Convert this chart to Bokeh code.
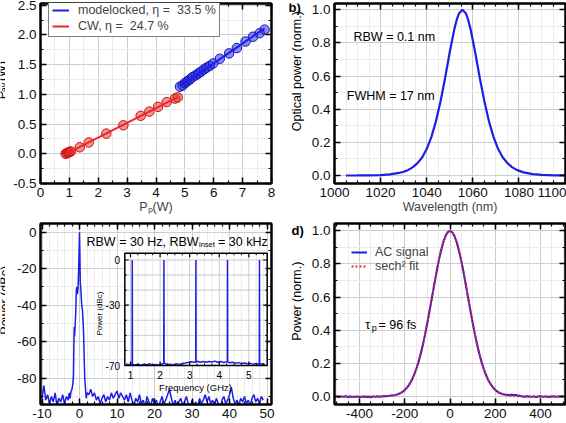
import math
import numpy as np
from bokeh.core.properties import value
from bokeh.embed import file_html
from bokeh.layouts import gridplot
from bokeh.models import (Label, Legend, LegendItem, LinearAxis, PrintfTickFormatter,
                          Range1d, SingleIntervalTicker)
from bokeh.plotting import figure
from bokeh.resources import INLINE

FONT = "Liberation Sans"
BLUE = "#1e1ee6"
BLUE_EDGE = "#1212b4"
RED = "#ea2626"
RED_EDGE = "#c41414"
GRID = "#cdcdcd"
MINOR_GRID = "#ececec"
TICK_FS = "13.5px"
LABEL_FS = "12.5px"
YLABEL_FS = "12.5px"
TEXT_FS = "12.5px"

# ---------------- (a) output power vs. pump power ----------------
cw_pump = [0.87, 0.92, 0.96, 1.00, 1.05, 1.36, 1.67, 2.28, 2.87, 3.47, 3.77, 4.07, 4.37, 4.66, 4.75]
cw_power = [0.00, 0.01, 0.02, 0.03, 0.04, 0.11, 0.19, 0.34, 0.48, 0.64, 0.71, 0.79, 0.87, 0.93, 0.95]
ml_pump = [4.83, 4.92, 5.00, 5.08, 5.17, 5.26, 5.37, 5.46, 5.55, 5.66,
           5.75, 5.86, 5.98, 6.21, 6.53, 6.80, 7.10, 7.36, 7.59, 7.76]
ml_power = [1.13, 1.15, 1.19, 1.22, 1.25, 1.29, 1.32, 1.35, 1.38, 1.42,
            1.45, 1.48, 1.52, 1.60, 1.69, 1.78, 1.89, 1.97, 2.03, 2.09]
eta_ml = 0.335   # slope efficiency, modelocked
eta_cw = 0.247   # slope efficiency, CW

# ---------------- (b) optical spectrum ----------------
wavelength = [1005, 1010, 1015, 1020, 1024, 1028, 1030, 1032, 1034, 1036, 1038, 1040,
              1042, 1044, 1046, 1048, 1050, 1052, 1053, 1054, 1055.5, 1057, 1058, 1059,
              1061, 1063, 1065, 1067, 1069, 1071, 1073, 1075, 1077, 1079, 1082, 1086,
              1090, 1095, 1100]
spectrum = [0.0002, 0.0005, 0.0012, 0.0031, 0.0072, 0.0156, 0.023, 0.034, 0.051, 0.075,
            0.109, 0.160, 0.232, 0.327, 0.448, 0.590, 0.745, 0.885, 0.939, 0.978, 1.000,
            0.978, 0.939, 0.885, 0.745, 0.590, 0.448, 0.327, 0.232, 0.160, 0.109, 0.075,
            0.051, 0.034, 0.019, 0.0085, 0.0038, 0.0014, 0.0005]

# ---------------- (c) RF spectrum around the repetition rate ----------------
rf_left_dbc = [-91, -84, -92, -89, -94, -90, -93, -88, -95, -91, -93, -89, -94, -90, -92]
rf_left_freq = np.arange(-10.0, -2.99, 0.5)
rf_peak_freq = [-2.75, -2.5, -2.25, -2.0, -1.75, -1.6, -1.5, -1.4, -1.3, -1.15, -1.0,
                -0.85, -0.7, -0.55, -0.4, -0.25, -0.1, 0.0, 0.1, 0.2, 0.35, 0.5, 0.65,
                0.8, 0.95, 1.1, 1.25, 1.4, 1.6, 1.8, 2.0]
rf_peak_dbc = [-88, -91, -87, -86, -83, -78, -62, -52, -57, -50, -44,
               -32, -30, -34, -31, -22, -9, 0, -11, -27, -31, -37, -41,
               -43, -49, -56, -69, -80, -86, -91, -88]
rf_right_dbc = [-89, -86, -90, -88, -92, -90, -94, -91, -89, -93,
                -90, -92, -88, -91, -89, -87, -91, -88, -90, -92,
                -89, -93, -88, -92, -95, -91, -93, -89, -94, -92,
                -96, -90, -93, -95, -91, -94, -92, -96, -93, -90,
                -94, -92, -89, -86, -91, -95, -92, -96, -93, -91,
                -95, -93, -90, -94, -96, -92, -95, -93, -96, -91,
                -94, -92, -89, -93, -90, -94, -92, -95, -91, -94,
                -96, -92, -90, -94, -92, -89, -85, -91, -94, -92,
                -95, -91, -93, -90, -94, -92, -95, -91, -89, -93,
                -91, -94, -90, -92]
rf_right_freq = np.arange(2.5, 49.01, 0.5)

# inset: wide span, harmonics of the repetition rate
inset_floor_dbc = [-69.0, -69.5, -68.8, -69.6, -69.2, -69.8, -69.1, -69.5, -68.9, -69.7,
                   -69.3, -69.6, -69.0, -68.5, -69.4, -69.1, -69.6, -68.9, -69.3, -68.7,
                   -68.4, -68.0, -67.5, -67.9, -67.2, -67.8, -67.4, -67.9, -67.3, -67.7,
                   -67.1, -67.8, -67.4, -68.0, -67.6, -68.2, -67.9, -68.5, -68.1, -68.7,
                   -68.3, -68.9, -68.6, -69.1, -68.7, -69.2, -68.8, -69.3]
inset_floor_ghz = np.arange(0.85, 5.56, 0.1)
harmonic_ghz = [1.06, 2.13, 3.21, 4.28, 5.36]
harmonic_dbc = [0.0, 0.0, 0.0, 0.0, 0.0]
harmonic_base = [-69.2, -68.7, -67.8, -67.6, -69.0]

# ---------------- (d) intensity autocorrelation ----------------
delay_fs = np.arange(-500, 501, 10)
ac_signal = [0.002, -0.003, 0.001, -0.002, 0.003, -0.004, 0.000, -0.002, -0.003, 0.001,
             -0.004, -0.002, 0.000, -0.003, -0.001, -0.004, 0.001, -0.002, 0.002, -0.001,
             0.001, 0.003, 0.002, 0.004, 0.006, 0.007, 0.010, 0.014, 0.020, 0.027,
             0.039, 0.054, 0.072, 0.096, 0.126, 0.162, 0.204, 0.254, 0.311, 0.375,
             0.445, 0.519, 0.595, 0.672, 0.747, 0.817, 0.878, 0.930, 0.968, 0.992,
             1.000,
             0.991, 0.967, 0.929, 0.878, 0.818, 0.748, 0.673, 0.596, 0.520, 0.446,
             0.376, 0.312, 0.255, 0.205, 0.163, 0.127, 0.097, 0.073, 0.055, 0.040,
             0.029, 0.021, 0.016, 0.012, 0.011, 0.010, 0.011, 0.010, 0.009, 0.006,
             0.003, 0.001, -0.001, 0.002, 0.000, -0.002, 0.001, -0.003, 0.000, 0.002,
             -0.002, 0.001, -0.001, -0.003, 0.000, 0.002, -0.002, 0.001, 0.000, -0.001]
sech2_fit = [0.000] * 20 + \
            [0.002, 0.002, 0.003, 0.004, 0.005, 0.007, 0.010, 0.014, 0.020, 0.028,
             0.039, 0.054, 0.072, 0.096, 0.126, 0.162, 0.204, 0.254, 0.311, 0.375,
             0.445, 0.519, 0.595, 0.672, 0.747, 0.817, 0.878, 0.930, 0.968, 0.992,
             1.000,
             0.992, 0.968, 0.930, 0.878, 0.817, 0.747, 0.672, 0.595, 0.519, 0.445,
             0.375, 0.311, 0.254, 0.204, 0.162, 0.126, 0.096, 0.072, 0.054, 0.039,
             0.028, 0.020, 0.014, 0.010, 0.007, 0.005, 0.004, 0.003, 0.002, 0.002] + \
            [0.000] * 20


class Frame:
    """Figure placement, borders and ranges; maps page pixels to data units."""

    def __init__(self, ox, oy, w, h, borders, xr, yr):
        self.ox, self.oy, self.w, self.h, self.borders = ox, oy, w, h, borders
        self.xr, self.yr = xr, yr
        self.x0, self.x1 = borders[0], w - borders[1]
        self.y0, self.y1 = borders[2], h - borders[3]

    def dx(self, gx):
        px = gx - self.ox
        return self.xr[0] + (px - self.x0) / (self.x1 - self.x0) * (self.xr[1] - self.xr[0])

    def dy(self, gy):
        py = gy - self.oy
        return self.yr[1] - (py - self.y0) / (self.y1 - self.y0) * (self.yr[1] - self.yr[0])


TOP_H, BOT_H = 218, 205
SIDE_W = 5      # narrow strip at the left edge (clipped y titles of a and c)
MID_W = 22      # strip holding the y titles and panel letters of b and d
FA = Frame(5, 0, 278, TOP_H, (35, 11, 0, 35), (0.0, 8.0), (-0.5, 2.53))
FB = Frame(305, 0, 261, TOP_H, (29, 1, 3, 35), (1000.0, 1100.2), (-0.048, 1.038))
FC = Frame(5, TOP_H, 278, BOT_H, (35, 12, 5, 19), (-10.4, 51.2), (-94.4, 4.77))
FD = Frame(305, TOP_H, 261, BOT_H, (29, 1, 5, 19), (-510.0, 510.0), (-0.048, 1.044))


def make_panel(F, xtick, ytick, xfmt, yfmt, xlabel=None):
    l, r, t, b = F.borders
    p = figure(width=F.w, height=F.h, x_range=Range1d(*F.xr), y_range=Range1d(*F.yr),
               output_backend="svg", toolbar_location=None,
               min_border_left=l, min_border_right=r, min_border_top=t, min_border_bottom=b)
    p.outline_line_color = "black"
    p.outline_line_width = 2
    p.background_fill_color = "white"
    p.border_fill_color = "white"
    p.add_layout(LinearAxis(), "above")
    p.add_layout(LinearAxis(), "right")
    for ax in p.xaxis:
        ax.ticker = xtick
        ax.formatter = PrintfTickFormatter(format=xfmt)
    for ax in p.yaxis:
        ax.ticker = ytick
        ax.formatter = PrintfTickFormatter(format=yfmt)
    for ax in p.axis:
        ax.axis_line_color = "black"
        ax.axis_line_width = 2
        ax.major_tick_in = 6
        ax.major_tick_out = 0
        ax.minor_tick_in = 3
        ax.minor_tick_out = 0
        ax.major_tick_line_color = "black"
        ax.minor_tick_line_color = "black"
        ax.major_tick_line_width = 1.5
        ax.minor_tick_line_width = 1.2
        ax.major_label_text_font = FONT
        ax.major_label_text_font_size = TICK_FS
        ax.major_label_text_color = "#111111"
    for ax in list(p.above) + list(p.right):
        ax.major_label_text_font_size = "1px"
        ax.major_label_text_color = None
        ax.major_label_standoff = 0
    p.below[0].major_label_standoff = 4
    p.left[0].major_label_standoff = 4
    if xlabel:
        p.below[0].axis_label = xlabel
        p.below[0].axis_label_text_font = FONT
        p.below[0].axis_label_text_font_size = LABEL_FS
        p.below[0].axis_label_text_font_style = "normal"
        p.below[0].axis_label_standoff = 0
    for g in (p.xgrid, p.ygrid):
        g.grid_line_color = GRID
        g.grid_line_width = 1
        g.minor_grid_line_color = MINOR_GRID
        g.minor_grid_line_width = 1
    return p


def put(p, F, gx, gy, text, size=TEXT_FS, align="left", baseline="middle",
        angle=0.0, style="normal"):
    p.add_layout(Label(x=F.dx(gx), y=F.dy(gy), text=text, text_font=FONT,
                       text_font_size=size, text_align=align, text_baseline=baseline,
                       angle=angle, text_font_style=style, text_color="black"))


class Strip:
    """Narrow axis-less figure used for titles that sit outside the plot frames."""

    def __init__(self, ox, oy, w, h):
        self.ox, self.oy, self.h = ox, oy, h
        self.fig = figure(width=w, height=h, x_range=Range1d(0, w), y_range=Range1d(0, h),
                          output_backend="svg", toolbar_location=None,
                          x_axis_type=None, y_axis_type=None,
                          min_border_left=0, min_border_right=0,
                          min_border_top=0, min_border_bottom=0)
        self.fig.outline_line_color = None
        self.fig.background_fill_color = "white"
        self.fig.border_fill_color = "white"

    def text(self, gx, gy, text, size, angle=0.0, align="left", baseline="alphabetic",
             style="normal"):
        self.fig.text(x=[gx - self.ox], y=[self.h - (gy - self.oy)], text=[text], angle=angle,
                      text_font=value(FONT), text_font_size=value(size), text_align=align,
                      text_baseline=baseline, text_font_style=style, text_color="black")


# ================= panel a =================
pa = make_panel(FA, SingleIntervalTicker(interval=1, num_minor_ticks=2),
                SingleIntervalTicker(interval=0.5, num_minor_ticks=2), "%d", "%.1f",
                xlabel="P\u209a(W)")
pa.scatter(cw_pump, cw_power, size=9.5, fill_color=RED, fill_alpha=0.5,
           line_color=RED_EDGE, line_width=1)
pa.scatter(ml_pump, ml_power, size=9.5, fill_color=BLUE, fill_alpha=0.5,
           line_color=BLUE_EDGE, line_width=1)


def fit_line(xs, ys, slope):
    xs = np.asarray(xs)
    ys = np.asarray(ys)
    icpt = ys.mean() - slope * xs.mean()
    lx = np.array([xs.min(), xs.max()])
    return lx, slope * lx + icpt


cx, cy = fit_line(cw_pump, cw_power, eta_cw)
mx, my = fit_line(ml_pump, ml_power, eta_ml)
r_cw = pa.line(cx, cy, line_color=RED, line_width=2)
r_ml = pa.line(mx, my, line_color=BLUE, line_width=2)
leg_a = Legend(items=[LegendItem(label=f"modelocked, \u03b7 =  {eta_ml * 100:.1f} %", renderers=[r_ml]),
                      LegendItem(label=f"CW, \u03b7 =  {eta_cw * 100:.1f} %", renderers=[r_cw])],
               location=(8, 146), border_line_color="black", border_line_width=1.5,
               background_fill_color="white", background_fill_alpha=1.0,
               padding=3, spacing=2, label_height=10, glyph_height=10, glyph_width=17,
               label_standoff=9, label_text_font=FONT, label_text_font_size=TEXT_FS, margin=0)
pa.add_layout(leg_a)

# ================= panel b =================
pb = make_panel(FB, SingleIntervalTicker(interval=20, num_minor_ticks=4),
                SingleIntervalTicker(interval=0.2, num_minor_ticks=2), "%d", "%.1f",
                xlabel="Wavelength (nm)")
pb.line(wavelength, spectrum, line_color=BLUE, line_width=2.2)
put(pb, FB, 353, 36, "RBW = 0.1 nm")
put(pb, FB, 346.3, 95, "FWHM = 17 nm")

# ================= panel c =================
pc = make_panel(FC, SingleIntervalTicker(interval=10, num_minor_ticks=5),
                SingleIntervalTicker(interval=20, num_minor_ticks=2), "%d", "%d")
rf_freq = np.concatenate([rf_left_freq, rf_peak_freq, rf_right_freq])
rf_dbc = np.concatenate([rf_left_dbc, rf_peak_dbc, rf_right_dbc])
pc.line(rf_freq, rf_dbc, line_color=BLUE, line_width=1.5)

# inset box, drawn with its own linear scales over the frame of panel c
IX = (0.807, 5.621)
IY = (-70.0, 4.5)
box_l, box_r = 124.3 - FC.ox, 266.7 - FC.ox
box_t, box_b = 252.7 - FC.oy, 365.0 - FC.oy
kx = (IX[1] - IX[0]) / (box_r - box_l)
ky = (IY[1] - IY[0]) / (box_b - box_t)
ix_range = (IX[0] - (box_l - FC.x0) * kx, IX[1] + (FC.x1 - box_r) * kx)
iy_range = (IY[0] - (FC.y1 - box_b) * ky, IY[1] + (box_t - FC.y0) * ky)
pc.extra_x_ranges = {"ix": Range1d(*ix_range)}
pc.extra_y_ranges = {"iy": Range1d(*iy_range)}
ins = dict(x_range_name="ix", y_range_name="iy")

pc.quad(left=[IX[0]], right=[IX[1]], bottom=[IY[0]], top=[IY[1]],
        fill_color="white", line_color=None, **ins)
inset_x_major = [1, 2, 3, 4, 5]
inset_x_minor = [v for v in np.arange(1.0, 5.6, 0.25) if abs(v - round(v)) > 1e-6]
inset_y_major = [0, -30, -70]
inset_y_minor = [-10, -20, -40, -50, -60]
pc.segment(x0=inset_x_minor, y0=[IY[0]] * len(inset_x_minor), x1=inset_x_minor,
           y1=[IY[1]] * len(inset_x_minor), line_color=MINOR_GRID, line_width=1, **ins)
pc.segment(x0=inset_x_major, y0=[IY[0]] * 5, x1=inset_x_major, y1=[IY[1]] * 5,
           line_color=GRID, line_width=1, **ins)
gy = inset_y_major + inset_y_minor
pc.segment(x0=[IX[0]] * len(gy), y0=gy, x1=[IX[1]] * len(gy), y1=gy,
           line_color=GRID, line_width=1, **ins)

# inset trace: noise floor plus the harmonic lines
pts = list(zip(inset_floor_ghz, inset_floor_dbc))
for f, top, base in zip(harmonic_ghz, harmonic_dbc, harmonic_base):
    pts += [(f - 0.006, base), (f, top), (f + 0.006, base)]
pts.sort()
pc.line([q[0] for q in pts], [q[1] for q in pts], line_color=BLUE, line_width=1.5, **ins)
pc.quad(left=[IX[0]], right=[IX[1]], bottom=[IY[0]], top=[IY[1]],
        fill_color=None, line_color="black", line_width=1.5, **ins)


def inset_ticks(xs, ys, lx, ly, width):
    n, m = len(xs), len(ys)
    kw = dict(line_color="black", line_width=width, **ins)
    pc.segment(x0=xs, y0=[IY[0]] * n, x1=xs, y1=[IY[0] + ly * ky] * n, **kw)
    pc.segment(x0=xs, y0=[IY[1]] * n, x1=xs, y1=[IY[1] - ly * ky] * n, **kw)
    pc.segment(x0=[IX[0]] * m, y0=ys, x1=[IX[0] + lx * kx] * m, y1=ys, **kw)
    pc.segment(x0=[IX[1]] * m, y0=ys, x1=[IX[1] - lx * kx] * m, y1=ys, **kw)


inset_ticks(inset_x_major, inset_y_major, 4, 4, 1.2)
inset_ticks(inset_x_minor, inset_y_minor, 2, 2, 1.0)

for v in inset_x_major:
    gxp = FC.ox + FC.x0 + (v - ix_range[0]) / kx
    put(pc, FC, gxp, 374.3, str(v), "10px", align="center")
for v in inset_y_major:
    gyp = FC.oy + FC.y0 + (iy_range[1] - v) / ky
    put(pc, FC, 119.5, gyp, str(v), "10px", align="right")
put(pc, FC, 195, 386.7, "Frequency (GHz)", "9.5px", align="center")
put(pc, FC, 99.3, 313, "Power (dBc)", "8px", align="center", angle=math.pi / 2)

# resolution bandwidth note
put(pc, FC, 86, 241, "RBW = 30 Hz, RBW")
put(pc, FC, 198.5, 244, "inset", "7.5px")
put(pc, FC, 217.5, 241, "= 30 kHz")

# ================= panel d =================
pd_ = make_panel(FD, SingleIntervalTicker(interval=200, num_minor_ticks=4),
                 SingleIntervalTicker(interval=0.2, num_minor_ticks=2), "%d", "%.1f")
r_ac = pd_.line(delay_fs, ac_signal, line_color=BLUE, line_width=2)
r_fit = pd_.line(delay_fs, sech2_fit, line_color=RED, line_width=2, line_dash="2 2")
leg_d = Legend(items=[LegendItem(label="AC signal", renderers=[r_ac]),
                      LegendItem(label="sech\u00b2 fit", renderers=[r_fit])],
               location=(17, 131), border_line_color=None, background_fill_alpha=0.0,
               padding=0, spacing=0, label_height=12, glyph_height=12, glyph_width=16,
               label_standoff=8, label_text_font=FONT, label_text_font_size=TEXT_FS, margin=0)
pd_.add_layout(leg_d)
put(pd_, FD, 364.7, 324.3, "\u03c4")
put(pd_, FD, 371.2, 327.5, "p", "9px")
put(pd_, FD, 378, 324.3, "= 96 fs")

# ================= title strips =================
sa = Strip(0, 0, SIDE_W, TOP_H)
sa.text(1, 116, "P", LABEL_FS, angle=math.pi / 2)
sa.text(3.5, 107.5, "av", "9px", angle=math.pi / 2)
sa.text(1, 94, "(W)", LABEL_FS, angle=math.pi / 2)

sc = Strip(0, TOP_H, SIDE_W, BOT_H)
sc.text(4.5, 305, "Power (dBc)", LABEL_FS, angle=math.pi / 2, align="center")

sb = Strip(283, 0, MID_W, TOP_H)
sb.text(288, 4.5, "b)", "13px", style="bold")
sb.text(296.3, 82, "Optical power (norm.)", YLABEL_FS, angle=math.pi / 2,
        align="center", baseline="middle")

sd = Strip(283, TOP_H, MID_W, BOT_H)
sd.text(291, 225.5, "d)", "13px", style="bold")
sd.text(296, 306, "Power (norm.)", YLABEL_FS, angle=math.pi / 2,
        align="center", baseline="middle")

grid = gridplot([[sa.fig, pa, sb.fig, pb], [sc.fig, pc, sd.fig, pd_]], toolbar_location=None)
open("out.html", "w").write(file_html(grid, INLINE))
